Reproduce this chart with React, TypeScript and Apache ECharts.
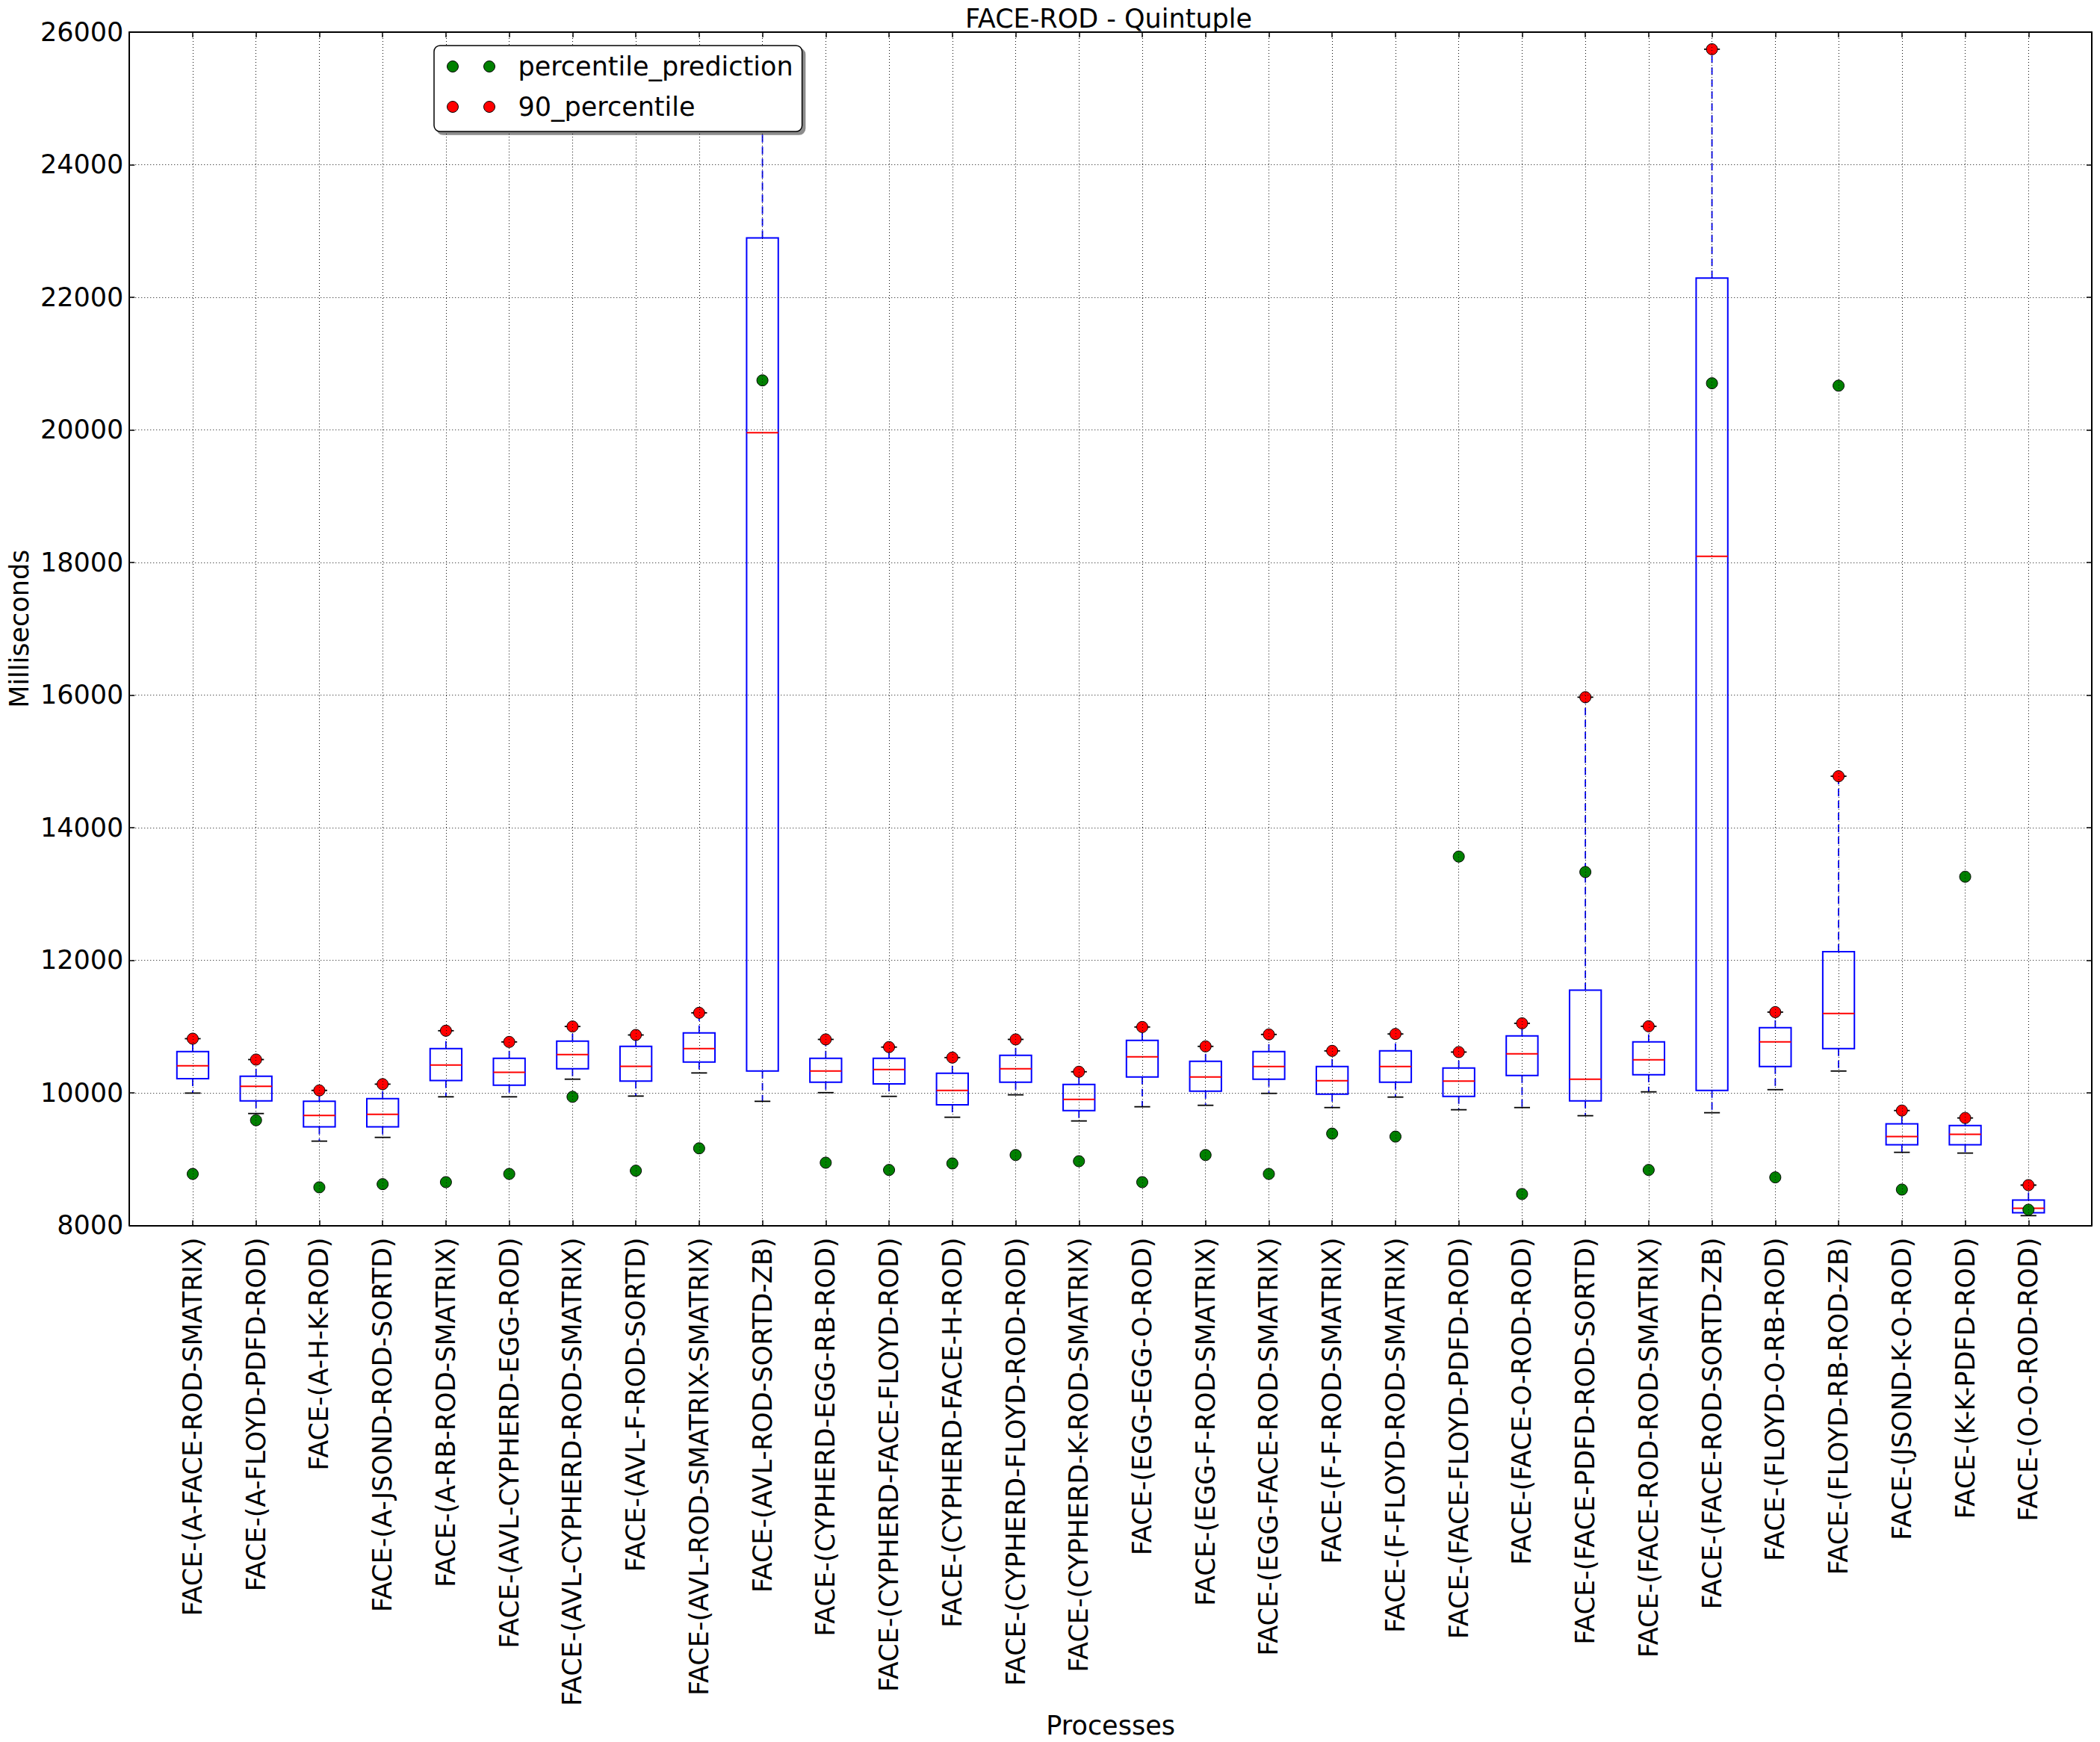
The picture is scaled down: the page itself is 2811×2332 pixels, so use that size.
import React, { useEffect, useRef } from "react";
import * as echarts from "echarts";

const categories = [
  "FACE-(A-FACE-ROD-SMATRIX)",
  "FACE-(A-FLOYD-PDFD-ROD)",
  "FACE-(A-H-K-ROD)",
  "FACE-(A-JSOND-ROD-SORTD)",
  "FACE-(A-RB-ROD-SMATRIX)",
  "FACE-(AVL-CYPHERD-EGG-ROD)",
  "FACE-(AVL-CYPHERD-ROD-SMATRIX)",
  "FACE-(AVL-F-ROD-SORTD)",
  "FACE-(AVL-ROD-SMATRIX-SMATRIX)",
  "FACE-(AVL-ROD-SORTD-ZB)",
  "FACE-(CYPHERD-EGG-RB-ROD)",
  "FACE-(CYPHERD-FACE-FLOYD-ROD)",
  "FACE-(CYPHERD-FACE-H-ROD)",
  "FACE-(CYPHERD-FLOYD-ROD-ROD)",
  "FACE-(CYPHERD-K-ROD-SMATRIX)",
  "FACE-(EGG-EGG-O-ROD)",
  "FACE-(EGG-F-ROD-SMATRIX)",
  "FACE-(EGG-FACE-ROD-SMATRIX)",
  "FACE-(F-F-ROD-SMATRIX)",
  "FACE-(F-FLOYD-ROD-SMATRIX)",
  "FACE-(FACE-FLOYD-PDFD-ROD)",
  "FACE-(FACE-O-ROD-ROD)",
  "FACE-(FACE-PDFD-ROD-SORTD)",
  "FACE-(FACE-ROD-ROD-SMATRIX)",
  "FACE-(FACE-ROD-SORTD-ZB)",
  "FACE-(FLOYD-O-RB-ROD)",
  "FACE-(FLOYD-RB-ROD-ZB)",
  "FACE-(JSOND-K-O-ROD)",
  "FACE-(K-K-PDFD-ROD)",
  "FACE-(O-O-ROD-ROD)",
];

const whiskerLow = [
  9996, 9688, 9272, 9328, 9940, 9940, 10206, 9951, 10300, 9872,
  10003, 9947, 9632, 9970, 9576, 9790, 9812, 9992, 9778, 9936,
  9745, 9778, 9655, 10015, 9700, 10048, 10329, 9103, 9092, 8147,
];
const quartile1 = [
  10213, 9880, 9486, 9486, 10187, 10116, 10363, 10176, 10465, 10329,
  10161, 10135, 9820, 10161, 9733, 10240, 10026, 10206, 9981, 10161,
  9947, 10262, 9880, 10273, 10037, 10397, 10667, 9216, 9216, 8192,
];
const medians = [
  10408, 10097, 9658, 9677, 10420, 10311, 10577, 10401, 10667, 19959,
  10330, 10352, 10037, 10363, 9902, 10543, 10240, 10397, 10183, 10397,
  10176, 10588, 10206, 10498, 18093, 10768, 11196, 9340, 9373, 8260,
];
const quartile3 = [
  10622, 10251, 9872, 9913, 10667, 10521, 10780, 10701, 10903, 22895,
  10521, 10521, 10296, 10566, 10127, 10791, 10476, 10622, 10397, 10633,
  10375, 10858, 11548, 10768, 22290, 10982, 12129, 9531, 9508, 8383,
];
const whiskerHigh = [
  10817, 10502, 10037, 10131, 10937, 10768, 11001, 10873, 11207, 25200,
  10806, 10690, 10532, 10806, 10318, 10993, 10701, 10881, 10633, 10888,
  10615, 11049, 15968, 11004, 25742, 11218, 14776, 9733, 9621, 8608,
];
const percentilePrediction = [
  8777, 9587, 8575, 8623, 8653, 8777, 9940, 8826, 9163, 20747,
  8946, 8837, 8935, 9062, 8969, 8653, 9062, 8777, 9385, 9340,
  13564, 8474, 13331, 8837, 20703, 8725, 20667, 8541, 13260, 8237,
];
const percentile90 = [
  10817, 10502, 10037, 10131, 10937, 10768, 11001, 10873, 11207, 25200,
  10806, 10690, 10532, 10806, 10318, 10993, 10701, 10881, 10633, 10888,
  10615, 11049, 15968, 11004, 25742, 11218, 14776, 9733, 9621, 8608,
];

const Y_MIN = 8000;
const Y_MAX = 26000;
const Y_STEP = 2000;

const FONT = "DejaVu Sans";
const TWO_DOTS =
  "path://M0,7.5A7.5,7.5 0 1 1 15,7.5A7.5,7.5 0 1 1 0,7.5ZM49,7.5A7.5,7.5 0 1 1 64,7.5A7.5,7.5 0 1 1 49,7.5Z";

export default function App() {
  const ref = useRef<HTMLDivElement>(null);

  useEffect(() => {
    const chart = echarts.init(ref.current as HTMLDivElement, null, { renderer: "svg" });

    const boxData = categories.map((_, i) => [
      i + 1,
      whiskerLow[i],
      quartile1[i],
      medians[i],
      quartile3[i],
      whiskerHigh[i],
    ]);
    const predData = categories.map((_, i) => [i + 1, percentilePrediction[i]]);
    const p90Data = categories.map((_, i) => [i + 1, percentile90[i]]);

    const axisLineStyle = { color: "#000", width: 2 };
    const gridLineStyle = { color: "#111", width: 1, type: [1, 3] as any };
    const textBase = { fontFamily: FONT, fontSize: 35, color: "#000" };
    const tickStyle = { show: true, inside: true, length: 7, lineStyle: { color: "#000", width: 1.5 } };

    const option: any = {
      animation: false,
      backgroundColor: "#fff",
      title: {
        text: "FACE-ROD - Quintuple",
        left: 1484,
        top: 7,
        textAlign: "center",
        padding: 0,
        textStyle: { ...textBase, fontWeight: "normal" },
      },
      legend: {
        orient: "vertical",
        left: 581,
        top: 61,
        data: [
          { name: "percentile_prediction", icon: TWO_DOTS },
          { name: "90_percentile", icon: TWO_DOTS },
        ],
        itemWidth: 64,
        itemHeight: 15,
        itemGap: 14,
        padding: [8, 12, 13, 17],
        backgroundColor: "#fff",
        borderColor: "#000",
        borderWidth: 1.5,
        borderRadius: 8,
        shadowColor: "rgba(0,0,0,0.45)",
        shadowOffsetX: 4,
        shadowOffsetY: 4,
        shadowBlur: 0,
        selectedMode: false,
        z: 10,
        itemStyle: { borderColor: "#000", borderWidth: 1 },
        textStyle: { ...textBase, lineHeight: 40, padding: [0, 0, 0, 26] },
      },
      grid: { left: 167, top: 43, right: 11, bottom: 689, containLabel: false },
      xAxis: [
        {
          type: "value",
          min: 0,
          max: 31,
          interval: 1,
          position: "bottom",
          z: 3,
          axisLine: { show: true, onZero: false, lineStyle: axisLineStyle },
          axisTick: tickStyle,
          axisLabel: {
            ...textBase,
            rotate: 90,
            margin: 16,
            showMinLabel: true,
            showMaxLabel: true,
            formatter: (v: number) => categories[Math.round(v) - 1] ?? "",
          },
          splitLine: { show: true, lineStyle: gridLineStyle },
          name: "Processes",
          nameLocation: "middle",
          nameGap: 640,
          nameTextStyle: { ...textBase },
        },
        {
          type: "value",
          min: 0,
          max: 31,
          interval: 1,
          position: "top",
          z: 3,
          axisLine: { show: true, onZero: false, lineStyle: axisLineStyle },
          axisTick: tickStyle,
          axisLabel: { show: false },
          splitLine: { show: false },
        },
      ],
      yAxis: [
        {
          type: "value",
          min: Y_MIN,
          max: Y_MAX,
          interval: Y_STEP,
          position: "left",
          z: 3,
          axisLine: { show: true, onZero: false, lineStyle: axisLineStyle },
          axisTick: tickStyle,
          axisLabel: { ...textBase, margin: 8, formatter: (v: number) => String(v) },
          splitLine: { show: true, lineStyle: gridLineStyle },
          name: "Milliseconds",
          nameLocation: "middle",
          nameRotate: 90,
          nameGap: 122,
          nameTextStyle: { ...textBase },
        },
        {
          type: "value",
          min: Y_MIN,
          max: Y_MAX,
          interval: Y_STEP,
          position: "right",
          z: 3,
          axisLine: { show: true, onZero: false, lineStyle: axisLineStyle },
          axisTick: tickStyle,
          axisLabel: { show: false },
          splitLine: { show: false },
        },
      ],
      series: [
        {
          type: "custom",
          name: "boxes",
          xAxisIndex: 0,
          yAxisIndex: 0,
          clip: true,
          z: 2,
          data: boxData,
          encode: { x: 0, y: [1, 2, 3, 4, 5] },
          renderItem: (params: any, api: any) => {
            const x = api.value(0);
            const pLow = api.coord([x, api.value(1)]);
            const pQ1 = api.coord([x, api.value(2)]);
            const pMed = api.coord([x, api.value(3)]);
            const pQ3 = api.coord([x, api.value(4)]);
            const pHigh = api.coord([x, api.value(5)]);
            const boxW = api.size([0.5, 0])[0];
            const capW = api.size([0.25, 0])[0];
            const cx = pQ1[0];
            const blue = "#0000ff";
            const whiskerStyle = { stroke: blue, lineWidth: 1.8, lineDash: [10, 6], fill: null };
            const capStyle = { stroke: "#000", lineWidth: 1.8, fill: null };
            return {
              type: "group",
              children: [
                { type: "line", shape: { x1: cx, y1: pQ3[1], x2: cx, y2: pHigh[1] }, style: whiskerStyle },
                { type: "line", shape: { x1: cx, y1: pQ1[1], x2: cx, y2: pLow[1] }, style: whiskerStyle },
                { type: "line", shape: { x1: cx - capW / 2, y1: pHigh[1], x2: cx + capW / 2, y2: pHigh[1] }, style: capStyle },
                { type: "line", shape: { x1: cx - capW / 2, y1: pLow[1], x2: cx + capW / 2, y2: pLow[1] }, style: capStyle },
                {
                  type: "rect",
                  shape: { x: cx - boxW / 2, y: pQ3[1], width: boxW, height: pQ1[1] - pQ3[1] },
                  style: { fill: "none", stroke: blue, lineWidth: 2 },
                },
                {
                  type: "line",
                  shape: { x1: cx - boxW / 2, y1: pMed[1], x2: cx + boxW / 2, y2: pMed[1] },
                  style: { stroke: "#ff0000", lineWidth: 2, fill: null },
                },
              ],
            };
          },
        },
        {
          type: "scatter",
          name: "percentile_prediction",
          xAxisIndex: 0,
          yAxisIndex: 0,
          data: predData,
          symbol: "circle",
          symbolSize: 15,
          z: 2,
          itemStyle: { color: "#008000", borderColor: "#000", borderWidth: 1, opacity: 1 },
        },
        {
          type: "scatter",
          name: "90_percentile",
          xAxisIndex: 0,
          yAxisIndex: 0,
          data: p90Data,
          symbol: "circle",
          symbolSize: 15,
          z: 2,
          itemStyle: { color: "#ff0000", borderColor: "#000", borderWidth: 1, opacity: 1 },
        },
      ],
    };

    chart.setOption(option);
    return () => chart.dispose();
  }, []);

  return (
    <div
      ref={ref}
      style={{ position: "fixed", left: 0, top: 0, width: 2811, height: 2332, background: "#fff" }}
    />
  );
}
